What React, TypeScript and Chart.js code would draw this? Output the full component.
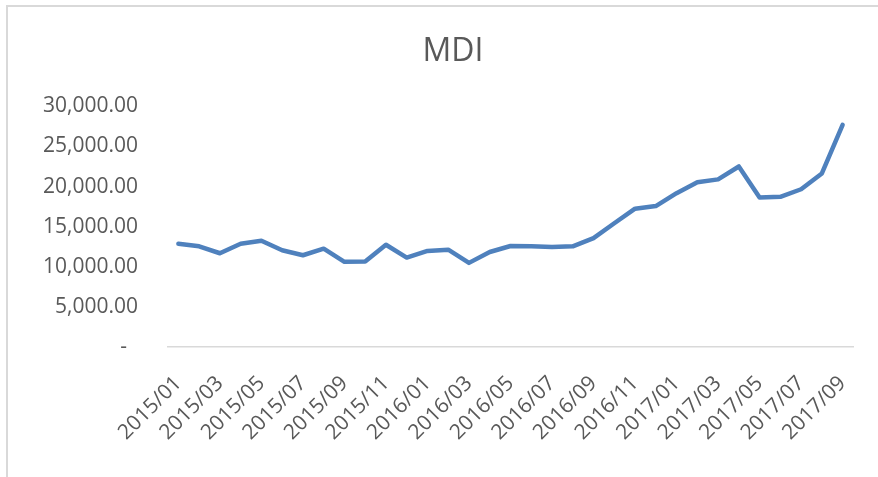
import { useEffect, useRef } from "react";
import Chart from "chart.js/auto";

const categories = [
  "2015/01", "2015/02", "2015/03", "2015/04", "2015/05", "2015/06", "2015/07", "2015/08", "2015/09", "2015/10", "2015/11", "2015/12",
  "2016/01", "2016/02", "2016/03", "2016/04", "2016/05", "2016/06", "2016/07", "2016/08", "2016/09", "2016/10", "2016/11", "2016/12",
  "2017/01", "2017/02", "2017/03", "2017/04", "2017/05", "2017/06", "2017/07", "2017/08", "2017/09",
];

const mdiValues = [
  12880, 12550, 11690, 12880, 13250, 12060, 11440, 12260, 10620, 10650, 12750, 11150,
  11980, 12140, 10490, 11850, 12590, 12550, 12470, 12550, 13580, 15430, 17250, 17570,
  19180, 20530, 20900, 22510, 18640, 18730, 19670, 21640, 27690,
];

const yMin = 0;
const yMax = 30000;
const yStep = 5000;

const FONT = "'Open Sans', 'Liberation Sans', sans-serif";
const TEXT = "#595959";

export default function App() {
  const ref = useRef<HTMLCanvasElement>(null);

  useEffect(() => {
    document.body.style.margin = "0";
    const canvas = ref.current;
    if (!canvas) return;
    const chart = new Chart(canvas, {
      type: "line",
      data: {
        labels: categories,
        datasets: [
          {
            label: "MDI",
            data: mdiValues,
            yAxisID: "y",
            borderColor: "#4f81bd",
            backgroundColor: "#4f81bd",
            borderWidth: 4.5,
            pointRadius: 0,
            pointHoverRadius: 0,
            tension: 0,
            borderJoinStyle: "round",
            borderCapStyle: "round",
          },
        ],
      },
      options: {
        responsive: false,
        animation: false,
        layout: { padding: 0 },
        plugins: {
          legend: { display: false },
          tooltip: { enabled: false },
          title: {
            display: true,
            text: "MDI",
            color: TEXT,
            font: { family: FONT, size: 32, weight: "normal" },
            padding: { top: 33, bottom: 35 },
          },
        },
        scales: {
          x: {
            offset: true,
            grid: { display: false, drawTicks: false },
            border: { display: true, color: "#d9d9d9", width: 1.5 },
            ticks: {
              autoSkip: false,
              minRotation: 45,
              maxRotation: 45,
              padding: 24,
              color: TEXT,
              font: { family: FONT, size: 21 },
              callback: (_v: any, i: number) => (i % 2 === 0 ? categories[i] : ""),
            },
            afterFit: (scale: any) => {
              scale.height = 130;
            },
          },
          y: {
            min: yMin,
            max: yMax,
            grid: { display: false, drawTicks: false },
            border: { display: false },
            ticks: {
              stepSize: yStep,
              padding: 30,
              color: TEXT,
              font: { family: FONT, size: 21 },
              callback: (v: any) =>
                Number(v) === 0
                  ? "-  "
                  : Number(v).toLocaleString("en-US", { minimumFractionDigits: 2, maximumFractionDigits: 2 }),
            },
            afterFit: (scale: any) => {
              scale.width = 168;
            },
          },
          yRight: {
            position: "right",
            min: yMin,
            max: yMax,
            grid: { display: false, drawTicks: false },
            border: { display: false },
            ticks: { display: false },
            afterFit: (scale: any) => {
              scale.width = 53;
            },
          },
        },
      },
    });
    return () => chart.destroy();
  }, []);

  return (
    <div style={{ position: "fixed", left: 0, top: 0, width: 878, height: 477, overflow: "hidden", background: "#fff" }}>
      <canvas ref={ref} width={906} height={477} style={{ position: "absolute", left: 0, top: 0, width: 906, height: 477, display: "block" }} />
      <div
        style={{
          position: "absolute",
          left: 6,
          top: 5,
          width: 900,
          height: 500,
          borderLeft: "2px solid #d9d9d9",
          borderTop: "2px solid #d9d9d9",
          pointerEvents: "none",
        }}
      />
    </div>
  );
}
